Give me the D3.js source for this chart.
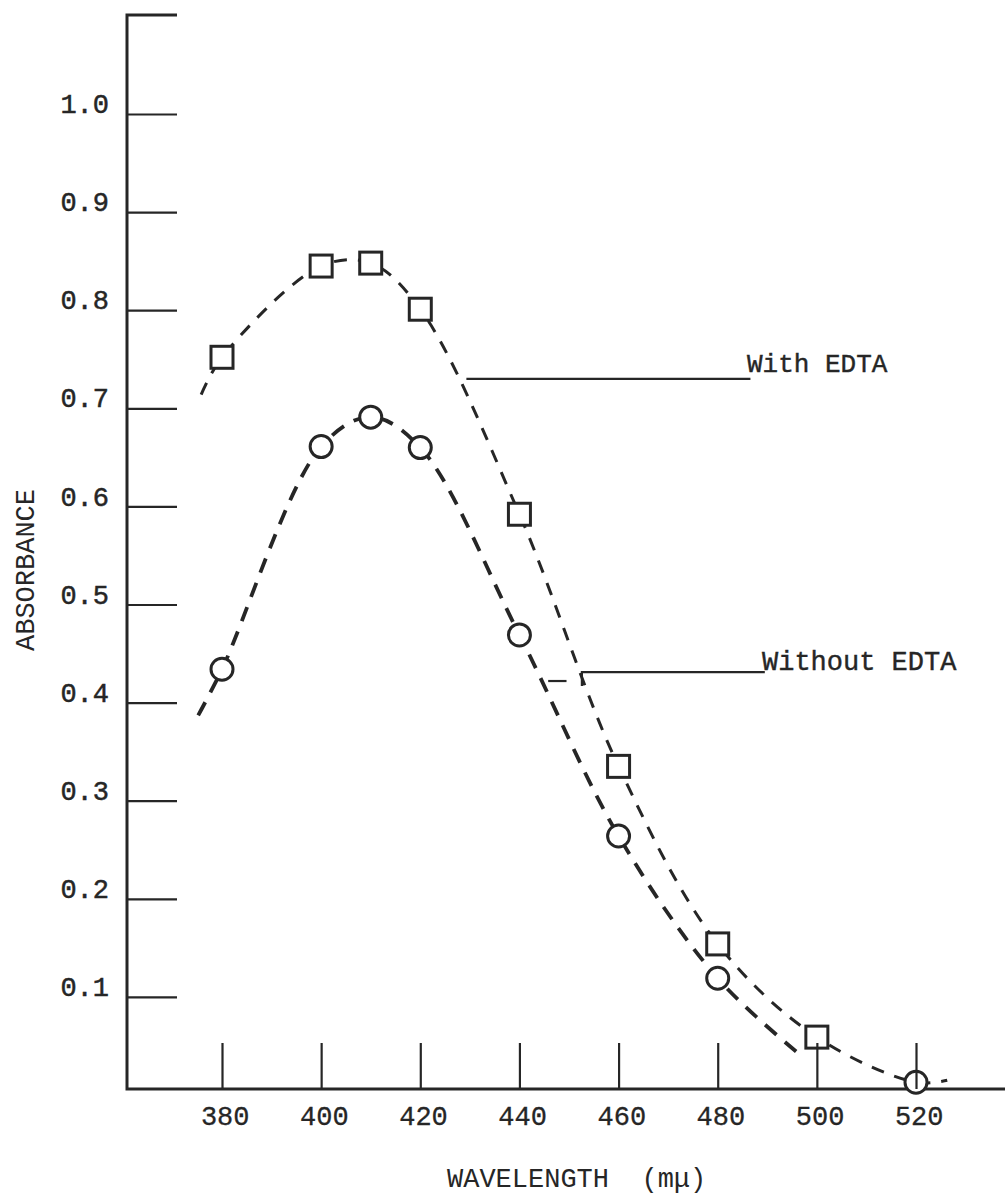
<!DOCTYPE html>
<html>
<head>
<meta charset="utf-8">
<script src="https://cdn.jsdelivr.net/npm/d3@7"></script>
<style>
  html, body { margin: 0; padding: 0; background: #fff; }
  svg text { font-family: "Liberation Mono", "DejaVu Sans Mono", monospace; }
</style>
</head>
<body>
<div class="container"></div>
<script>
// data
const wavelengths = [380, 400, 410, 420, 440, 460, 480, 500, 520];
const withEDTA = [0.752, 0.845, 0.848, 0.801, 0.592, 0.335, 0.154, 0.059, null];
const withoutEDTA = [0.434, 0.661, 0.691, 0.660, 0.469, 0.264, 0.119, null, 0.013];
// where the hand-drawn dashed curves start and stop [wavelength, absorbance]
const withCurveStart = [375.8, 0.714];
const withCurveEnd = [526.3, 0.015];
const withoutCurveStart = [375.2, 0.387];
const withoutCurveEnd = [496.6, 0.041];
const xTicks = [380, 400, 420, 440, 460, 480, 500, 520];
const yTicks = [0.1, 0.2, 0.3, 0.4, 0.5, 0.6, 0.7, 0.8, 0.9, 1.0];

const width = 1005;
const height = 1197;
const ink = "#262626";
const axisX = 127;
const axisTop = 15;
const baseY = 1089;

const x = d3.scaleLinear().domain([380, 520]).range([222, 916]);
const y = d3.scaleLinear().domain([0, 1]).range([1095, 114]);

const svg = d3.select(".container")
  .append("svg")
  .attr("xmlns", "http://www.w3.org/2000/svg")
  .attr("width", width)
  .attr("height", height)
  .attr("viewBox", `0 0 ${width} ${height}`);

svg.append("rect")
  .attr("width", width)
  .attr("height", height)
  .attr("fill", "#fff");

// frame: top stub, y axis, x axis
svg.append("path")
  .attr("d", `M${axisX + 50},${axisTop}H${axisX}V${baseY}H${width}`)
  .attr("fill", "none")
  .attr("stroke", ink)
  .attr("stroke-width", 3);

// y axis ticks (pointing inward) and labels
const yAxis = svg.append("g")
  .attr("transform", `translate(${axisX},0)`)
  .call(d3.axisLeft(y).tickValues(yTicks).tickSizeInner(-50).tickSizeOuter(0)
    .tickPadding(18).tickFormat(d3.format(".1f")));
yAxis.select(".domain").remove();
yAxis.selectAll(".tick line").attr("stroke", ink).attr("stroke-width", 2.2);
yAxis.selectAll(".tick text")
  .attr("dy", "-0.05em")
  .attr("font-family", null)
  .style("font-size", "27px")
  .attr("fill", ink)
  .attr("stroke", ink)
  .attr("stroke-width", 0.5);

// curves
const line = d3.line()
  .x(d => x(d[0]))
  .y(d => y(d[1]))
  .curve(d3.curveCatmullRom.alpha(0.5));

const withPts = [withCurveStart]
  .concat(wavelengths.map((w, i) => [w, withEDTA[i]]).filter(d => d[1] !== null && d[0] <= 500))
  .concat([[520, withoutEDTA[8]], withCurveEnd]);
const withoutPts = [withoutCurveStart]
  .concat(wavelengths.map((w, i) => [w, withoutEDTA[i]]).filter(d => d[1] !== null && d[0] <= 480))
  .concat([withoutCurveEnd]);

svg.append("path")
  .attr("d", line(withPts))
  .attr("fill", "none")
  .attr("stroke", ink)
  .attr("stroke-width", 3)
  .attr("stroke-dasharray", "13,11");

svg.append("path")
  .attr("d", line(withoutPts))
  .attr("fill", "none")
  .attr("stroke", ink)
  .attr("stroke-width", 3.8)
  .attr("stroke-dasharray", "15,11");

// markers
const sq = 22;
svg.append("g")
  .selectAll("rect")
  .data(wavelengths.map((w, i) => [w, withEDTA[i]]).filter(d => d[1] !== null))
  .join("rect")
  .attr("x", d => x(d[0]) - sq / 2)
  .attr("y", d => y(d[1]) - sq / 2)
  .attr("width", sq)
  .attr("height", sq)
  .attr("fill", "#fff")
  .attr("stroke", ink)
  .attr("stroke-width", 3);

svg.append("g")
  .selectAll("circle")
  .data(wavelengths.map((w, i) => [w, withoutEDTA[i]]).filter(d => d[1] !== null))
  .join("circle")
  .attr("cx", d => x(d[0]))
  .attr("cy", d => y(d[1]))
  .attr("r", 11)
  .attr("fill", "#fff")
  .attr("stroke", ink)
  .attr("stroke-width", 3);

// x axis ticks (pointing up) and labels
const xAxis = svg.append("g")
  .attr("transform", `translate(0,${baseY})`)
  .call(d3.axisBottom(x).tickValues(xTicks).tickSizeInner(-46).tickSizeOuter(0)
    .tickFormat(d3.format("d")));
xAxis.select(".domain").remove();
xAxis.selectAll(".tick line").attr("stroke", ink).attr("stroke-width", 2.2);
xAxis.selectAll(".tick text")
  .attr("y", 36)
  .attr("dy", 0)
  .attr("dx", "0.1em")
  .attr("font-family", null)
  .style("font-size", "27px")
  .attr("fill", ink)
  .attr("stroke", ink)
  .attr("stroke-width", 0.3);

// axis titles
svg.append("text")
  .attr("x", 447)
  .attr("y", 1187)
  .attr("xml:space", "preserve")
  .style("font-size", "27px")
  .attr("fill", ink)
  .text("WAVELENGTH  (mμ)");

svg.append("text")
  .attr("transform", "translate(34,570) rotate(-90)")
  .attr("text-anchor", "middle")
  .style("font-size", "27px")
  .attr("fill", ink)
  .text("ABSORBANCE");

// labels with leader lines
const lead = svg.append("g")
  .attr("fill", "none")
  .attr("stroke", ink)
  .attr("stroke-width", 2.2);

lead.append("line")
  .attr("x1", x(429.3)).attr("x2", x(486.6))
  .attr("y1", y(0.730)).attr("y2", y(0.730));

lead.append("path")
  .attr("d", `M${x(489.5)},${y(0.431)}H${x(452.6)}V${y(0.417)}`);
lead.append("line")
  .attr("x1", x(445.8)).attr("x2", x(449.5))
  .attr("y1", y(0.422)).attr("y2", y(0.422));

svg.append("text")
  .attr("x", 747)
  .attr("y", 372)
  .style("font-size", "26px")
  .attr("fill", ink)
  .attr("stroke", ink)
  .attr("stroke-width", 0.4)
  .text("With EDTA");

svg.append("text")
  .attr("x", 762)
  .attr("y", 670)
  .style("font-size", "27px")
  .attr("fill", ink)
  .attr("stroke", ink)
  .attr("stroke-width", 0.4)
  .text("Without EDTA");
</script>
</body>
</html>
